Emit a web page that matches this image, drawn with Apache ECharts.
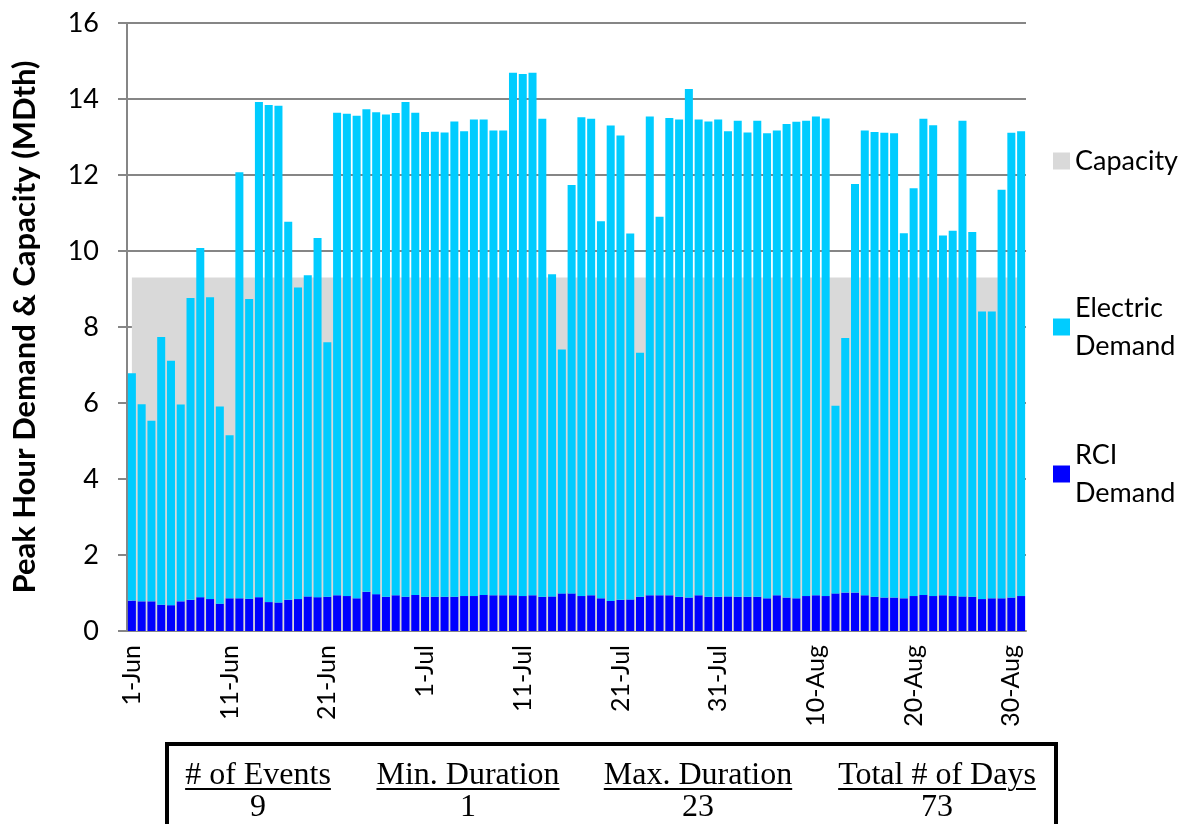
<!DOCTYPE html>
<html>
<head>
<meta charset="utf-8">
<script src="https://cdn.jsdelivr.net/npm/echarts@6/dist/echarts.min.js"></script>
<style>
  html, body { margin: 0; padding: 0; background: #fff; overflow: hidden; }
  #chart { position: absolute; left: 0; top: 0; width: 1183px; height: 824px; }
  #stats {
    position: absolute; left: 165px; top: 742px; width: 885px; height: 110px;
    border: 4px solid #000; background: #fff;
    font-family: "Liberation Serif", serif; font-size: 32px; line-height: 32px; color: #000;
  }
  #stats .cell { position: absolute; width: 300px; text-align: center; }
  #stats .head { top: 11px; text-decoration: underline; text-decoration-thickness: 2px; text-underline-offset: 4px; }
  #stats .val { top: 43px; }
</style>
</head>
<body>
<div id="chart"></div>
<div id="stats"></div>
<script>
var days = [
  "1-Jun","2-Jun","3-Jun","4-Jun","5-Jun","6-Jun","7-Jun","8-Jun","9-Jun","10-Jun",
  "11-Jun","12-Jun","13-Jun","14-Jun","15-Jun","16-Jun","17-Jun","18-Jun","19-Jun","20-Jun",
  "21-Jun","22-Jun","23-Jun","24-Jun","25-Jun","26-Jun","27-Jun","28-Jun","29-Jun","30-Jun",
  "1-Jul","2-Jul","3-Jul","4-Jul","5-Jul","6-Jul","7-Jul","8-Jul","9-Jul","10-Jul",
  "11-Jul","12-Jul","13-Jul","14-Jul","15-Jul","16-Jul","17-Jul","18-Jul","19-Jul","20-Jul",
  "21-Jul","22-Jul","23-Jul","24-Jul","25-Jul","26-Jul","27-Jul","28-Jul","29-Jul","30-Jul",
  "31-Jul","1-Aug","2-Aug","3-Aug","4-Aug","5-Aug","6-Aug","7-Aug","8-Aug","9-Aug",
  "10-Aug","11-Aug","12-Aug","13-Aug","14-Aug","15-Aug","16-Aug","17-Aug","18-Aug","19-Aug",
  "20-Aug","21-Aug","22-Aug","23-Aug","24-Aug","25-Aug","26-Aug","27-Aug","28-Aug","29-Aug",
  "30-Aug","31-Aug"
];

var rciDemand = [
  0.80,0.78,0.78,0.69,0.68,0.78,0.82,0.89,0.84,0.72,
  0.86,0.86,0.85,0.89,0.76,0.75,0.82,0.84,0.91,0.89,
  0.90,0.94,0.92,0.86,1.03,0.97,0.90,0.94,0.90,0.95,
  0.90,0.90,0.90,0.90,0.92,0.92,0.95,0.94,0.94,0.94,
  0.92,0.94,0.90,0.91,0.99,0.99,0.92,0.94,0.86,0.79,
  0.82,0.83,0.90,0.94,0.94,0.94,0.90,0.88,0.94,0.90,
  0.90,0.91,0.90,0.90,0.90,0.86,0.94,0.88,0.86,0.92,
  0.94,0.92,0.99,1.01,1.01,0.94,0.90,0.88,0.88,0.86,
  0.92,0.95,0.92,0.94,0.92,0.91,0.90,0.84,0.86,0.86,
  0.88,0.92
];

var electricDemand = [
  5.98,5.19,4.75,7.05,6.43,5.18,7.94,9.19,7.94,5.19,
  4.29,11.21,7.89,13.03,13.08,13.07,9.95,8.20,8.45,9.45,
  6.70,12.70,12.69,12.70,12.70,12.68,12.69,12.69,13.02,12.69,
  12.23,12.24,12.22,12.51,12.23,12.54,12.51,12.23,12.23,13.75,
  13.74,13.75,12.58,8.48,6.42,10.75,12.60,12.54,9.92,12.51,
  12.22,9.63,6.42,12.60,9.96,12.56,12.56,13.38,12.52,12.51,
  12.56,12.24,12.53,12.22,12.53,12.24,12.23,12.46,12.54,12.51,
  12.60,12.57,4.94,6.70,10.75,12.23,12.23,12.23,12.22,9.61,
  10.73,12.53,12.39,9.47,9.61,12.52,9.60,7.57,7.55,10.75,
  12.23,12.23
];

var capacity = [
  9.3,9.3,9.3,9.3,9.3,9.3,9.3,9.3,9.3,9.3,
  9.3,9.3,9.3,9.3,9.3,9.3,9.3,9.3,9.3,9.3,
  9.3,9.3,9.3,9.3,9.3,9.3,9.3,9.3,9.3,9.3,
  9.3,9.3,9.3,9.3,9.3,9.3,9.3,9.3,9.3,9.3,
  9.3,9.3,9.3,9.3,9.3,9.3,9.3,9.3,9.3,9.3,
  9.3,9.3,9.3,9.3,9.3,9.3,9.3,9.3,9.3,9.3,
  9.3,9.3,9.3,9.3,9.3,9.3,9.3,9.3,9.3,9.3,
  9.3,9.3,9.3,9.3,9.3,9.3,9.3,9.3,9.3,9.3,
  9.3,9.3,9.3,9.3,9.3,9.3,9.3,9.3,9.3,9.3,
  9.3,9.3
];

var statLabels = ["# of Events", "Min. Duration", "Max. Duration", "Total # of Days"];
var statValues = ["9", "1", "23", "73"];

function init_demand_chart(container) {
  var myChart = echarts.init(document.getElementById(container));
  var font = "Lato";
  var gridColor = "#868686";
  var legendText = { fontSize: 27, fontFamily: font, color: "#000", lineHeight: 38 };
  var twoLine = function (name) { return name.replace(" ", "\n"); };

  var option = {
    animation: false,
    grid: { left: 127, top: 23, width: 899, height: 608 },
    legend: [
      {
        data: ["Capacity"], left: 1048, top: 137, icon: "rect",
        itemWidth: 17, itemHeight: 17, textStyle: legendText
      },
      {
        data: ["Electric Demand"], left: 1048, top: 265, icon: "rect",
        itemWidth: 17, itemHeight: 17, formatter: twoLine,
        textStyle: Object.assign({}, legendText, { padding: [38, 0, 0, 0] })
      },
      {
        data: ["RCI Demand"], left: 1048, top: 412, icon: "rect",
        itemWidth: 17, itemHeight: 17, formatter: twoLine,
        textStyle: Object.assign({}, legendText, { padding: [38, 0, 0, 0] })
      }
    ],
    xAxis: {
      type: "category",
      data: days,
      axisLine: { lineStyle: { color: gridColor, width: 2 } },
      axisTick: { interval: 0, length: 8, lineStyle: { color: gridColor, width: 2 } },
      axisLabel: {
        interval: 9, rotate: 90, margin: 14,
        fontSize: 25, fontFamily: font, color: "#000"
      }
    },
    yAxis: {
      type: "value",
      min: 0, max: 16, interval: 2,
      name: "Peak Hour Demand & Capacity (MDth)",
      nameLocation: "middle",
      nameGap: 87,
      nameTextStyle: { fontSize: 31, fontWeight: "bold", fontFamily: font, color: "#000" },
      axisLine: { show: true, lineStyle: { color: gridColor, width: 2 } },
      axisTick: { show: true, length: 9, lineStyle: { color: gridColor, width: 2 } },
      axisLabel: { margin: 28, fontSize: 27, fontFamily: font, color: "#000" },
      splitLine: { lineStyle: { color: gridColor, width: 2 } }
    },
    series: [
      {
        name: "Capacity",
        type: "line",
        data: capacity,
        showSymbol: false,
        silent: true,
        color: "#d9d9d9",
        itemStyle: { color: "#d9d9d9" },
        lineStyle: { width: 0, color: "#d9d9d9" },
        areaStyle: { color: "#d9d9d9", opacity: 1 },
        z: 1
      },
      {
        name: "RCI Demand",
        type: "bar",
        stack: "demand",
        data: rciDemand,
        barCategoryGap: "18%",
        itemStyle: { color: "#0000ff" },
        z: 3
      },
      {
        name: "Electric Demand",
        type: "bar",
        stack: "demand",
        data: electricDemand,
        barCategoryGap: "18%",
        itemStyle: { color: "#00ccff" },
        z: 3
      }
    ]
  };

  option && myChart.setOption(option);
}

function init_stats_table(container) {
  var box = document.getElementById(container);
  var centers = [93, 303, 533, 772];
  for (var i = 0; i < statLabels.length; i++) {
    var h = document.createElement("div");
    h.className = "cell head";
    h.style.left = (centers[i] - 150 - 4) + "px";
    h.textContent = statLabels[i];
    box.appendChild(h);
    var v = document.createElement("div");
    v.className = "cell val";
    v.style.left = (centers[i] - 150 - 4) + "px";
    v.textContent = statValues[i];
    box.appendChild(v);
  }
}

init_demand_chart("chart");
init_stats_table("stats");
</script>
</body>
</html>
